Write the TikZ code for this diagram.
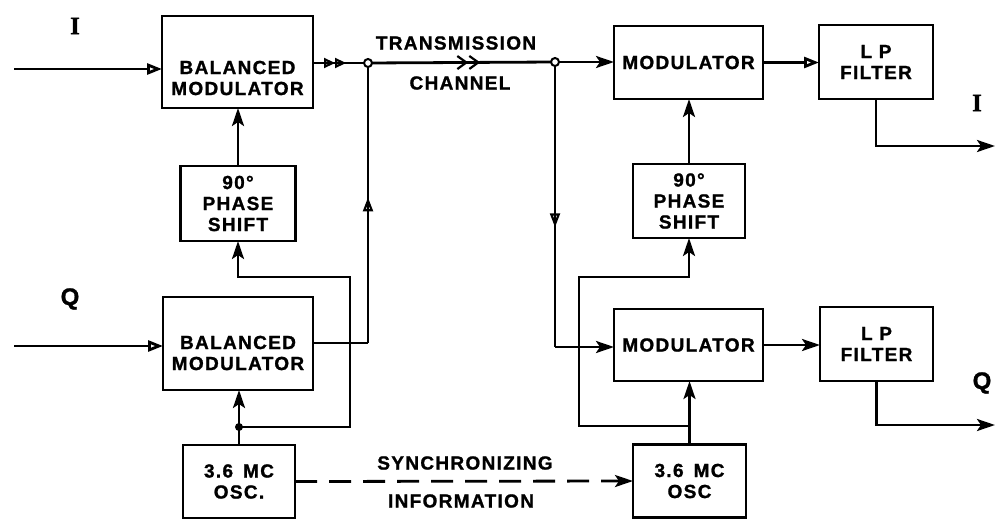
\documentclass[tikz,border=0pt]{standalone}
\usepackage{fontspec}
\setmainfont{Liberation Sans}[LetterSpace=7,FakeBold=1.2]
\newfontfamily\romanI{Liberation Serif}[FakeBold=1.5]
\usetikzlibrary{arrows.meta,decorations.markings}
\tikzset{
  blk/.style={draw, line width=2.8pt, inner sep=0pt, outer sep=0pt},
  txt/.style={align=center, inner sep=0pt},
  tipF/.style={-{Stealth[length=18pt,width=12pt,inset=4pt]}},
  tipO/.style={-{Triangle[open,length=15pt,width=11pt]}},
  midmark/.style 2 args={postaction={decorate}, decoration={markings, mark=at position #1 with {\arrow[line width=2.2pt]{#2}}}},
  odot/.style={circle, draw, fill=white, line width=2pt, minimum size=8pt, inner sep=0pt},
  fdot/.style={circle, fill, minimum size=8pt, inner sep=0pt},
}
\begin{document}
\begin{tikzpicture}[x={(1pt,0pt)}, y={(0pt,-1pt)}, line width=2.8pt,
  font=\fontsize{19}{21}\selectfont\bfseries]
\useasboundingbox (0,0) rectangle (995,519);

% ---- transmitter blocks
\node[blk, minimum width=151pt, minimum height=92pt] (bm1) at (237.5,62) {};
\node[txt] (bm1t) at (237.5,78) {BALANCED\\MODULATOR};
\node[blk, minimum width=115pt, minimum height=75pt, txt] (ps1) at (238,203.5) {90°\\PHASE\\SHIFT};
\node[blk, minimum width=150pt, minimum height=93pt] (bm2) at (238,343.5) {};
\node[txt] (bm2t) at (238,353) {BALANCED\\MODULATOR};
\node[blk, minimum width=112pt, minimum height=73pt, txt] (osc1) at (239,481.5) {3.6\hspace{10pt}MC\\OSC.};

% ---- receiver blocks
\node[blk, minimum width=149pt, minimum height=73pt, txt] (mod1) at (688.5,62.5) {MODULATOR};
\node[blk, minimum width=114pt, minimum height=74pt, txt] (lp1) at (876,62) {L P\\FILTER};
\node[blk, minimum width=112pt, minimum height=74pt, txt] (ps2) at (689,201) {90°\\PHASE\\SHIFT};
\node[blk, minimum width=149pt, minimum height=72pt, txt] (mod2) at (688.5,345) {MODULATOR};
\node[blk, minimum width=113pt, minimum height=74pt, txt] (lp2) at (876.5,344) {L P\\FILTER};
\node[blk, minimum width=113pt, minimum height=73pt, txt] (osc2) at (689.5,481) {3.6\hspace{10pt}MC\\OSC};

% ---- labels
\node[txt, font=\fontsize{25}{25}\selectfont\romanI\bfseries] (lI) at (75,26) {I};
\node[txt, font=\fontsize{24}{24}\selectfont\bfseries] (lQ) at (70,299) {Q};
\node[txt, font=\fontsize{25}{25}\selectfont\romanI\bfseries] (rI) at (977,103) {I};
\node[txt, font=\fontsize{24}{24}\selectfont\bfseries] (rQ) at (982,383) {Q};
\node[txt] (tx1) at (456,43) {TRANSMISSION};
\node[txt] (tx2) at (460,83) {CHANNEL};
\node[txt] (sy1) at (465,463) {SYNCHRONIZING};
\node[txt] (sy2) at (461,501) {INFORMATION};

% ---- coordinates
\coordinate (inI) at (14,69);
\coordinate (inQ) at (14,346);
\coordinate (j1) at (368,63);
\coordinate (j2) at (555,62);
\coordinate (c1) at (368,343);
\coordinate (c2) at (555,347);
\coordinate (k1) at (239,427);
\coordinate (w1) at (350,277);
\coordinate (k2) at (689,426);
\coordinate (w2) at (579,277);
\coordinate (o1) at (995,146);
\coordinate (o2) at (995,425);

% ---- transmitter connections
\draw[tipO] (inI) -- (inI -| bm1.west);
\draw[tipO] (inQ) -- (inQ -| bm2.west);
\draw[midmark={0.6}{Triangle[open,length=11pt,width=10pt] Triangle[open,length=11pt,width=10pt]}] (j1 -| bm1.east) -- (j1);
\draw[tipF] (ps1.north) -- (ps1.north |- bm1.south);
\draw (c1 -| bm2.east) -- (c1);
\draw[midmark={0.52}{Triangle[open,length=14pt,width=10pt]}] (c1) -- (j1);
\draw[tipF] (osc1.north) -- (osc1.north |- bm2.south);
\draw[tipF] (k1) -| (w1) -| (ps1.south);
\node[fdot] (k1d) at (k1) {};

% ---- channel
\draw[midmark={0.6}{Straight Barb[length=9pt,width=13pt] Straight Barb[length=9pt,width=13pt]}] (j1) -- (j2);
\draw[tipF, dash pattern=on 22pt off 12pt] (osc1.east) -- (osc2.west);

% ---- receiver connections
\draw[tipF] (j2) -- (j2 -| mod1.west);
\draw[midmark={0.58}{Triangle[open,length=14pt,width=10pt]}] (j2) -- (j2 |- c2);
\draw[tipF] (j2 |- c2) -- (c2 -| mod2.west);
\draw[tipO] (mod1.east) -- (mod1.east -| lp1.west);
\draw[tipF] (mod2.east) -- (mod2.east -| lp2.west);
\draw[tipF] (ps2.north) -- (ps2.north |- mod1.south);
\draw[tipF] (k2) -| (w2) -| (ps2.south);
\draw[tipF] (osc2.north) -- (osc2.north |- mod2.south);
\draw[tipF] (lp1.south) |- (o1);
\draw[tipF] (lp2.south) |- (o2);

\node[odot] (j1d) at (j1) {};
\node[odot] (j2d) at (j2) {};
\end{tikzpicture}
\end{document}
